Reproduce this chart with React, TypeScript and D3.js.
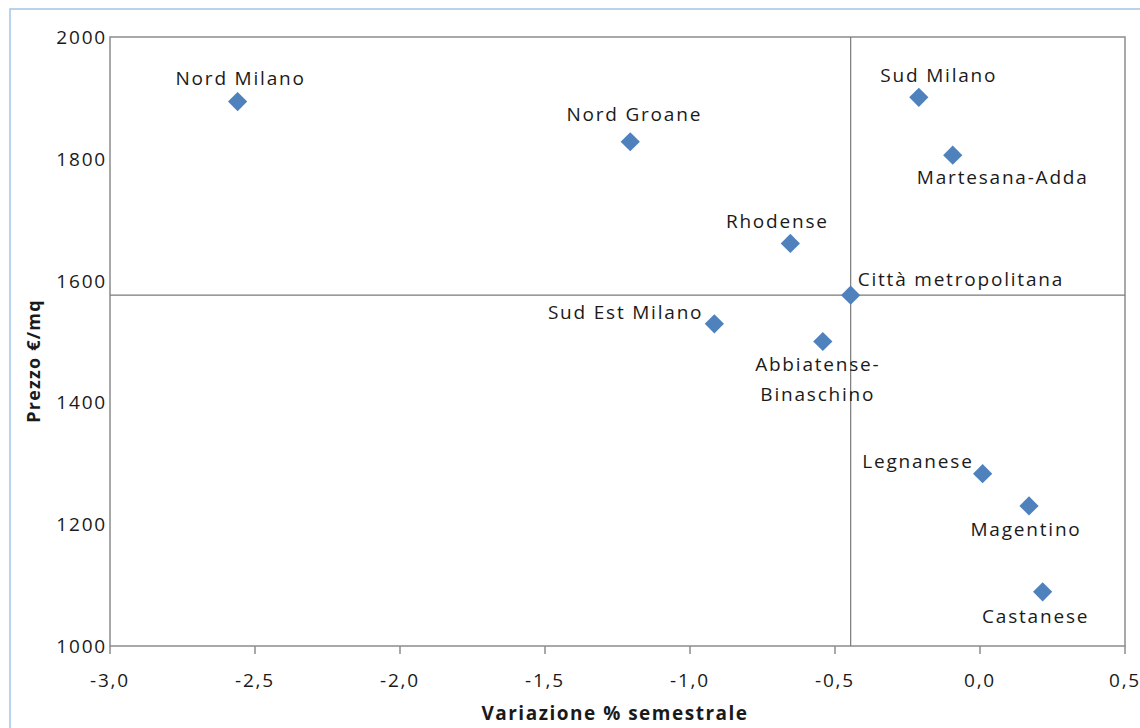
import React from "react";
import * as d3 from "d3";

const areas = [
  "Nord Milano",
  "Nord Groane",
  "Sud Milano",
  "Martesana-Adda",
  "Rhodense",
  "Città metropolitana",
  "Sud Est Milano",
  "Abbiatense-Binaschino",
  "Legnanese",
  "Magentino",
  "Castanese",
];
const variation = [-2.56, -1.206, -0.211, -0.094, -0.654, -0.446, -0.916, -0.542, 0.009, 0.169, 0.216];
const price = [1894, 1828, 1901, 1806, 1661, 1576, 1529, 1500, 1283, 1230, 1089];

const xTicks = [-3.0, -2.5, -2.0, -1.5, -1.0, -0.5, 0.0, 0.5];
const yTicks = [1000, 1200, 1400, 1600, 1800, 2000];
const refIndex = 5; // Città metropolitana: quadrant cross lines

// label placement (pixel offsets from the marker, anchor)
const labelLayout: { dx: number; dy: number; anchor: string; lines?: string[] }[] = [
  { dx: 3, dy: -23, anchor: "middle" },
  { dx: 4, dy: -27, anchor: "middle" },
  { dx: 20, dy: -21, anchor: "middle" },
  { dx: 50, dy: 23, anchor: "middle" },
  { dx: -13, dy: -21, anchor: "middle" },
  { dx: 7, dy: -15, anchor: "start" },
  { dx: -11, dy: -11, anchor: "end" },
  { dx: -5, dy: 23, anchor: "middle", lines: ["Abbiatense-", "Binaschino"] },
  { dx: -9, dy: -12, anchor: "end" },
  { dx: -3, dy: 24, anchor: "middle" },
  { dx: -7, dy: 25, anchor: "middle" },
];

const W = 1140;
const H = 728;
const M = { left: 110, right: 1125, top: 37, bottom: 646 };
const FONT = "'Open Sans', 'DejaVu Sans', sans-serif";
const LS = 1.8;

export default function App() {
  const x = d3.scaleLinear().domain([-3, 0.5]).range([M.left, M.right]);
  const y = d3.scaleLinear().domain([1000, 2000]).range([M.bottom, M.top]);
  const diamond = d3.symbol().type(d3.symbolSquare).size(185)();
  const fmt = (v: number) => d3.format(".1f")(v).replace(".", ",").replace("−", "-");
  const refX = x(variation[refIndex]);
  const refY = y(price[refIndex]);

  return (
    <svg
      width={W}
      height={H}
      style={{ position: "absolute", left: 0, top: 0, background: "#fff" }}
      fontFamily={FONT}
    >
      <rect x={10} y={9} width={W} height={H} fill="#fff" stroke="#a9c9e8" strokeWidth={1.6} />
      {/* plot box */}
      <rect
        x={M.left}
        y={M.top}
        width={M.right - M.left}
        height={M.bottom - M.top}
        fill="none"
        stroke="#8c8c8c"
        strokeWidth={1.5}
      />
      {/* quadrant lines */}
      <line x1={refX} x2={refX} y1={M.top} y2={M.bottom} stroke="#7a7a7a" strokeWidth={1.2} />
      <line x1={M.left} x2={M.right} y1={refY} y2={refY} stroke="#7a7a7a" strokeWidth={1.2} />
      {/* x ticks */}
      {xTicks.map((t) => (
        <g key={t}>
          <line x1={x(t)} x2={x(t)} y1={M.bottom} y2={M.bottom + 8} stroke="#8c8c8c" strokeWidth={1.5} />
          <text
            x={x(t)}
            y={M.bottom + 41}
            textAnchor="middle"
            fontSize={19}
            letterSpacing={LS}
            fill="#1a1a1a"
          >
            {fmt(t)}
          </text>
        </g>
      ))}
      {/* y ticks */}
      {yTicks.map((t) => (
        <text
          key={t}
          x={M.left - 3}
          y={y(t) + 7}
          textAnchor="end"
          fontSize={19}
          letterSpacing={LS}
          fill="#1a1a1a"
        >
          {t}
        </text>
      ))}
      {/* axis titles */}
      <text
        x={615}
        y={720}
        textAnchor="middle"
        fontSize={19}
        letterSpacing={1.5}
        fontWeight="bold"
        fill="#1a1a1a"
      >
        Variazione % semestrale
      </text>
      <text
        transform={`translate(40,361) rotate(-90)`}
        textAnchor="middle"
        fontSize={18}
        letterSpacing={1.2}
        fontWeight="bold"
        fill="#1a1a1a"
      >
        Prezzo €/mq
      </text>
      {/* points */}
      {areas.map((a, i) => (
        <path
          key={a}
          d={diamond!}
          transform={`translate(${x(variation[i])},${y(price[i])}) rotate(45)`}
          fill="#4f81bd"
        />
      ))}
      {/* labels */}
      {areas.map((a, i) => {
        const L = labelLayout[i];
        const px = x(variation[i]) + L.dx;
        const py = y(price[i]) + L.dy;
        const lines = L.lines ?? [a];
        return (
          <text
            key={a}
            x={px}
            y={py + 6}
            textAnchor={L.anchor as any}
            fontSize={19}
            letterSpacing={LS}
            fill="#1a1a1a"
          >
            {lines.map((ln, k) => (
              <tspan key={k} x={px} dy={k === 0 ? 0 : 30}>
                {ln}
              </tspan>
            ))}
          </text>
        );
      })}
    </svg>
  );
}
